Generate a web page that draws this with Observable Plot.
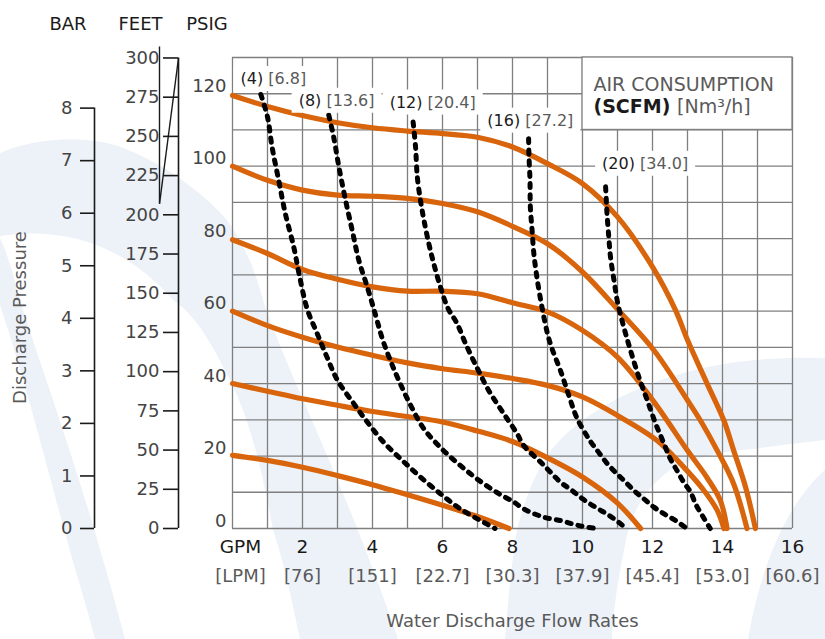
<!DOCTYPE html>
<html><head><meta charset="utf-8">
<script src="https://cdn.jsdelivr.net/npm/d3@7"></script>
<script src="https://cdn.jsdelivr.net/npm/@observablehq/plot@0.6"></script>
<style>
html,body{margin:0;padding:0;background:#fff;}
#chart{position:relative;width:825px;height:639px;overflow:hidden;}
#chart svg{position:absolute;left:0;top:0;}
</style></head><body><div id="chart">
<svg width="825" height="639" viewBox="0 0 825 639" aria-hidden="true">
  <g fill="#edf2f8">
    <path d="M0,153 C40,136 95,134 133,152 C170,168 205,195 227,220 C245,245 255,270 263,300 C290,380 340,470 398,639 L300,639 C290,590 283,560 273,530 C262,470 250,420 230,380 C210,340 195,315 173,300 C130,250 70,225 0,236 Z"/>
    <path d="M0,238 C8,255 15,280 20,300 C45,380 80,470 125,639 L95,639 C85,600 75,570 67,540 C45,460 25,380 0,305 Z"/>
    <path d="M505,639 C508,600 512,560 517,530 C530,480 545,455 560,440 C590,410 630,390 670,377 C710,364 760,356 825,358 L825,440 C790,444 760,448 727,452 C700,457 685,462 670,470 C650,485 635,505 627,535 C620,570 614,600 612,639 Z"/>
    <path d="M748,639 C760,570 785,505 825,470 L825,639 Z"/>
  </g>
</svg>
</div>
<script>
// ---- tick labels / axes ----
const psiTicks = [0, 20, 40, 60, 80, 100, 120];
const barTicks = [0, 1, 2, 3, 4, 5, 6, 7, 8];
const feetTicks = [0, 25, 50, 75, 100, 125, 150, 175, 200, 225, 250, 275, 300];
const gpmTicks = [2, 4, 6, 8, 10, 12, 14, 16];
const lpmLabels = ["[76]", "[151]", "[22.7]", "[30.3]", "[37.9]", "[45.4]", "[53.0]", "[60.6]"];
const gridGpm = [0,1,2,3,4,5,6,7,8,9,10,11,12,13,14,15,16];
const gridPsi = [0,10,20,30,40,50,60,70,80,90,100,110,120,130];
const PSI_PER_BAR = 14.5038;
const FT_PER_PSI = 2.31;
const breakFeet = [207, 307];

// ---- pump curves (discharge pressure, psig, vs flow, gpm) at each inlet air pressure ----
const q120 = [0,1,2,3,4,5,6,7,8,9,10,11,12,12.66,13,13.56,14.04,14.32,14.66,14.94];
const p120 = [119.5,116.5,114,112,110.6,109.7,109,108,105.3,100.7,95.2,86,72.2,60.2,52,40,29.8,21.5,11.4,0];
const q100 = [0,1,2,3,4,5,6,7,8,9,10,11,12.04,13,13.37,13.85,14.32,14.7];
const p100 = [100,96.1,93.4,92,91.7,91.1,89.7,87.4,83.4,78.6,70.8,60.5,49.2,35.4,29.8,21.5,12.3,0];
const q80 = [0,1,2,3,4,5,6,7,8,9,10,11,12,13,13.56,13.94,14.13];
const p80 = [79.7,75.9,71.5,68.8,66.7,65.5,65.5,64.8,62.3,59.8,54.7,47.3,35.5,21.5,14,7.7,0];
const q60 = [0,1,2,3,4,5,6,7,8,9,10,11,12.13,12.8,13.47,13.85,14.04];
const p60 = [60,56,52.8,50.1,47.8,45.7,44.1,42.9,41.4,39.5,36.3,31.2,24.3,17.9,10.5,5,0];
const q40 = [0,1,2,3,4,5,6,7,8,9,10,11,11.66];
const p40 = [40,37.9,35.8,34,32.3,30.9,29.4,26.9,24,19.5,14.2,7,0];
const q20 = [0,1,2,3,4,5,6,7,7.9];
const p20 = [20.2,18.8,16.9,14.6,12.1,9.3,6.4,3.3,0];

// ---- air consumption curves (SCFM) ----
const a4q = [0.81,1,1.13,1.32,1.51,1.75,1.9,2.13,2.42,2.7,3,3.47,3.85,4.32,4.85,5.37,5.94,6.51,7.18,7.5];
const a4p = [119.8,113.6,105.3,96.1,86.9,77.7,70.4,60.7,53.8,47.3,40.9,34.4,29.4,23.8,18.8,14.2,9.6,5.4,1.7,0];
const a8q = [2.75,2.89,3.04,3.23,3.42,3.61,3.85,4.09,4.28,4.51,4.75,5.09,5.47,6,6.51,7.04,7.61,8.04,8.32,8.9,9.37,9.7,10.04,10.4];
const a8p = [114.1,108.1,99.8,90.6,82.3,74,66.7,58.8,52.4,46.4,40.9,34,27.5,21.8,17.4,13.3,9.6,7.3,5.4,3.1,2.2,1.3,0.5,0];
const a12q = [5.16,5.23,5.28,5.37,5.47,5.61,5.75,5.94,6.15,6.42,6.66,7,7.32,7.75,8.13,8.32,8.85,9.37,9.7,10,10.28,10.61,10.9,11.25];
const a12p = [112.2,105.3,97,90.6,85.1,78.6,73.1,66.7,60.9,56.5,51,44.1,38.1,31.7,26.2,22.9,17.9,12.8,10.5,8.2,6.4,4.5,2.7,0];
const a16q = [8.46,8.47,8.5,8.51,8.56,8.61,8.71,8.85,9,9.13,9.37,9.61,9.85,10.23,10.48,10.7,10.94,11.18,11.47,11.75,12.04,12.32,12.66,12.98];
const a16p = [107.6,103,96.1,88.7,82.3,75.9,68.5,60.7,53.8,49.6,43.6,36.7,30.3,24,20.8,18,15.5,13.3,10.5,8.2,5.9,4.1,2.2,0];
const a20q = [10.66,10.68,10.7,10.75,10.8,10.9,11,11.18,11.37,11.61,11.85,12.09,12.23,12.37,12.51,12.7,12.89,13.09,13.23,13.42,13.65];
const a20p = [94.3,90.6,86.9,80.5,74.9,68.5,62.5,55.6,49.2,41.8,35.4,28.9,25.7,22.4,19.2,16,12.8,10,6.8,3.6,0];

// ---- curve labels ----
const scfmLabels = ["(4)", "(8)", "(12)", "(16)", "(20)"];
const nm3Labels = ["[6.8]", "[13.6]", "[20.4]", "[27.2]", "[34.0]"];
const labelQ = [0.23, 1.89, 4.49, 7.28, 10.56];
const labelP = [124.1, 118.1, 117.6, 112.6, 100.7];

// legend cell
const legendBox = {x1: 10, x2: 16, y1: 110, y2: 130};

// ---- build tables ----
const pump = [];
[[120,q120,p120],[100,q100,p100],[80,q80,p80],[60,q60,p60],[40,q40,p40],[20,q20,p20]]
  .forEach(([s,q,p]) => q.forEach((v,i) => pump.push({series: s, q: v, p: p[i]})));
const air = [];
[[4,a4q,a4p],[8,a8q,a8p],[12,a12q,a12p],[16,a16q,a16p],[20,a20q,a20p]]
  .forEach(([s,q,p]) => q.forEach((v,i) => air.push({series: s, q: v, p: p[i]})));
const labels = scfmLabels.map((s,i) => ({text: s + " " + nm3Labels[i], q: labelQ[i], p: labelP[i]}));

const ORANGE = "#d8640b";
const GRID = "#7f7f7f";
const DARK = "#1a1a1a";
const GRAY = "#5a5a5a";
const FONT = "DejaVu Sans";

const chart = Plot.plot({
  width: 825, height: 639,
  marginLeft: 232, marginRight: 33, marginTop: 57, marginBottom: 111,
  style: {fontFamily: FONT, fontSize: "18px", background: "transparent", overflow: "visible"},
  x: {domain: [0, 16], label: null, axis: null},
  y: {domain: [0, 130], label: null},
  marks: [
    // grid
    Plot.ruleX(gridGpm, {stroke: GRID, strokeWidth: 1.3}),
    Plot.ruleY(gridPsi, {stroke: GRID, strokeWidth: 1.3}),
    // legend cell
    Plot.rect([legendBox], {x1: "x1", x2: "x2", y1: "y1", y2: "y2", fill: "white", stroke: GRID, strokeWidth: 1.3}),
    // pump curves
    Plot.line(pump, {x: "q", y: "p", z: "series", stroke: ORANGE, strokeWidth: 5.2, curve: "catmull-rom", strokeLinejoin: "round"}),
    // air consumption curves
    Plot.line(air, {x: "q", y: "p", z: "series", stroke: "#000", strokeWidth: 5, strokeDasharray: "4.2,7", curve: "catmull-rom"}),
    // curve labels
    Plot.text(labels, {x: "q", y: "p", text: "text", textAnchor: "start", fill: DARK, fontSize: 16, ariaDescription: "curve labels"}),
    // legend text
    Plot.text(["AIR CONSUMPTION"], {x: legendBox.x1, y: legendBox.y2, dx: 11, dy: 27, textAnchor: "start", fill: GRAY, fontSize: 19}),
    Plot.text(["(SCFM) [Nm³/h]"], {x: legendBox.x1, y: legendBox.y2, dx: 11, dy: 49, textAnchor: "start", fill: DARK, fontSize: 19, ariaDescription: "legend unit"}),
    // PSI axis
    Plot.axisY(psiTicks, {anchor: "left", tickSize: 0, tickPadding: 6, dy: -7.5, fill: "#444", fontSize: 18}),
    // FEET axis
    Plot.ruleX([0], {y1: 0, y2: 300 / FT_PER_PSI, dx: -54, stroke: DARK, strokeWidth: 1.6}),
    Plot.axisY(feetTicks.map(f => f / FT_PER_PSI), {anchor: "left", dx: -54, tickSize: 15, tickPadding: 4, stroke: DARK, fill: "#444", strokeWidth: 1.6, fontSize: 18, tickFormat: d => Math.round(d * FT_PER_PSI)}),
    Plot.ruleX([0], {y1: breakFeet[0] / FT_PER_PSI, y2: breakFeet[1] / FT_PER_PSI, dx: -73, stroke: DARK, strokeWidth: 1.4}),
    Plot.link([0], {x1: 0, x2: 19 / 35, y1: breakFeet[0] / FT_PER_PSI, y2: 300 / FT_PER_PSI, dx: -73, stroke: DARK, strokeWidth: 1.4}),
    // BAR axis
    Plot.ruleX([0], {y1: 0, y2: 8 * PSI_PER_BAR, dx: -138, stroke: DARK, strokeWidth: 1.6}),
    Plot.axisY(barTicks.map(b => b * PSI_PER_BAR), {anchor: "left", dx: -138, tickSize: 14, tickPadding: 8, stroke: DARK, fill: "#444", strokeWidth: 1.6, fontSize: 18, tickFormat: d => Math.round(d / PSI_PER_BAR)}),
    // headers
    Plot.text(["BAR"], {frameAnchor: "top-left", textAnchor: "middle", dx: -164.5, dy: -40, fill: DARK, fontSize: 18}),
    Plot.text(["FEET"], {frameAnchor: "top-left", textAnchor: "middle", dx: -92, dy: -40, fill: DARK, fontSize: 18}),
    Plot.text(["PSIG"], {frameAnchor: "top-left", textAnchor: "middle", dx: -25.5, dy: -40, fill: DARK, fontSize: 18}),
    Plot.text(["Discharge Pressure"], {frameAnchor: "left", textAnchor: "middle", rotate: -90, dx: -212, dy: 24.5, fill: GRAY, fontSize: 18}),
    // x axis rows
    Plot.text(gpmTicks, {x: d => d, frameAnchor: "bottom", dy: 24, fill: DARK, fontSize: 18.5}),
    Plot.text(["GPM"], {x: [0], frameAnchor: "bottom", dy: 24, dx: 8, fill: DARK, fontSize: 18.5}),
    Plot.text(lpmLabels, {x: (d, i) => gpmTicks[i], frameAnchor: "bottom", dy: 53, fill: GRAY, fontSize: 18}),
    Plot.text(["[LPM]"], {x: [0], frameAnchor: "bottom", dy: 53, dx: 8, fill: GRAY, fontSize: 18}),
    Plot.text(["Water Discharge Flow Rates"], {frameAnchor: "bottom", dy: 98, fill: GRAY, fontSize: 18})
  ]
});
document.getElementById("chart").append(chart);

// mixed styling: bracketed part in gray, bold prefix for the legend unit
const NS = "http://www.w3.org/2000/svg";
function splitBracket(el, boldFirst) {
  const t = el.textContent;
  const k = t.indexOf("[");
  if (k < 0) return;
  el.textContent = "";
  const a = document.createElementNS(NS, "tspan");
  a.textContent = t.slice(0, k);
  a.setAttribute("fill", DARK);
  if (boldFirst) a.setAttribute("font-weight", "bold");
  const b = document.createElementNS(NS, "tspan");
  b.textContent = t.slice(k);
  b.setAttribute("fill", GRAY);
  el.append(a, b);
}
function groupOf(desc) {
  return Array.from(chart.querySelectorAll("g")).find(g => g.getAttribute("aria-description") === desc);
}
const unitGroup = groupOf("legend unit");
if (unitGroup) unitGroup.querySelectorAll("text").forEach(el => splitBracket(el, true));
const labelGroup = groupOf("curve labels");
if (labelGroup) {
  const texts = Array.from(labelGroup.querySelectorAll("text"));
  texts.forEach(el => splitBracket(el, false));
  texts.forEach(el => {
    const bb = el.getBBox();
    const r = document.createElementNS(NS, "rect");
    r.setAttribute("x", bb.x - 7);
    r.setAttribute("y", bb.y - 3);
    r.setAttribute("width", bb.width + 14);
    r.setAttribute("height", bb.height + 6);
    r.setAttribute("fill", "white");
    r.setAttribute("stroke", "none");
    const tr = el.getAttribute("transform");
    if (tr) r.setAttribute("transform", tr);
    labelGroup.insertBefore(r, labelGroup.firstChild);
  });
}
</script>
</body></html>
